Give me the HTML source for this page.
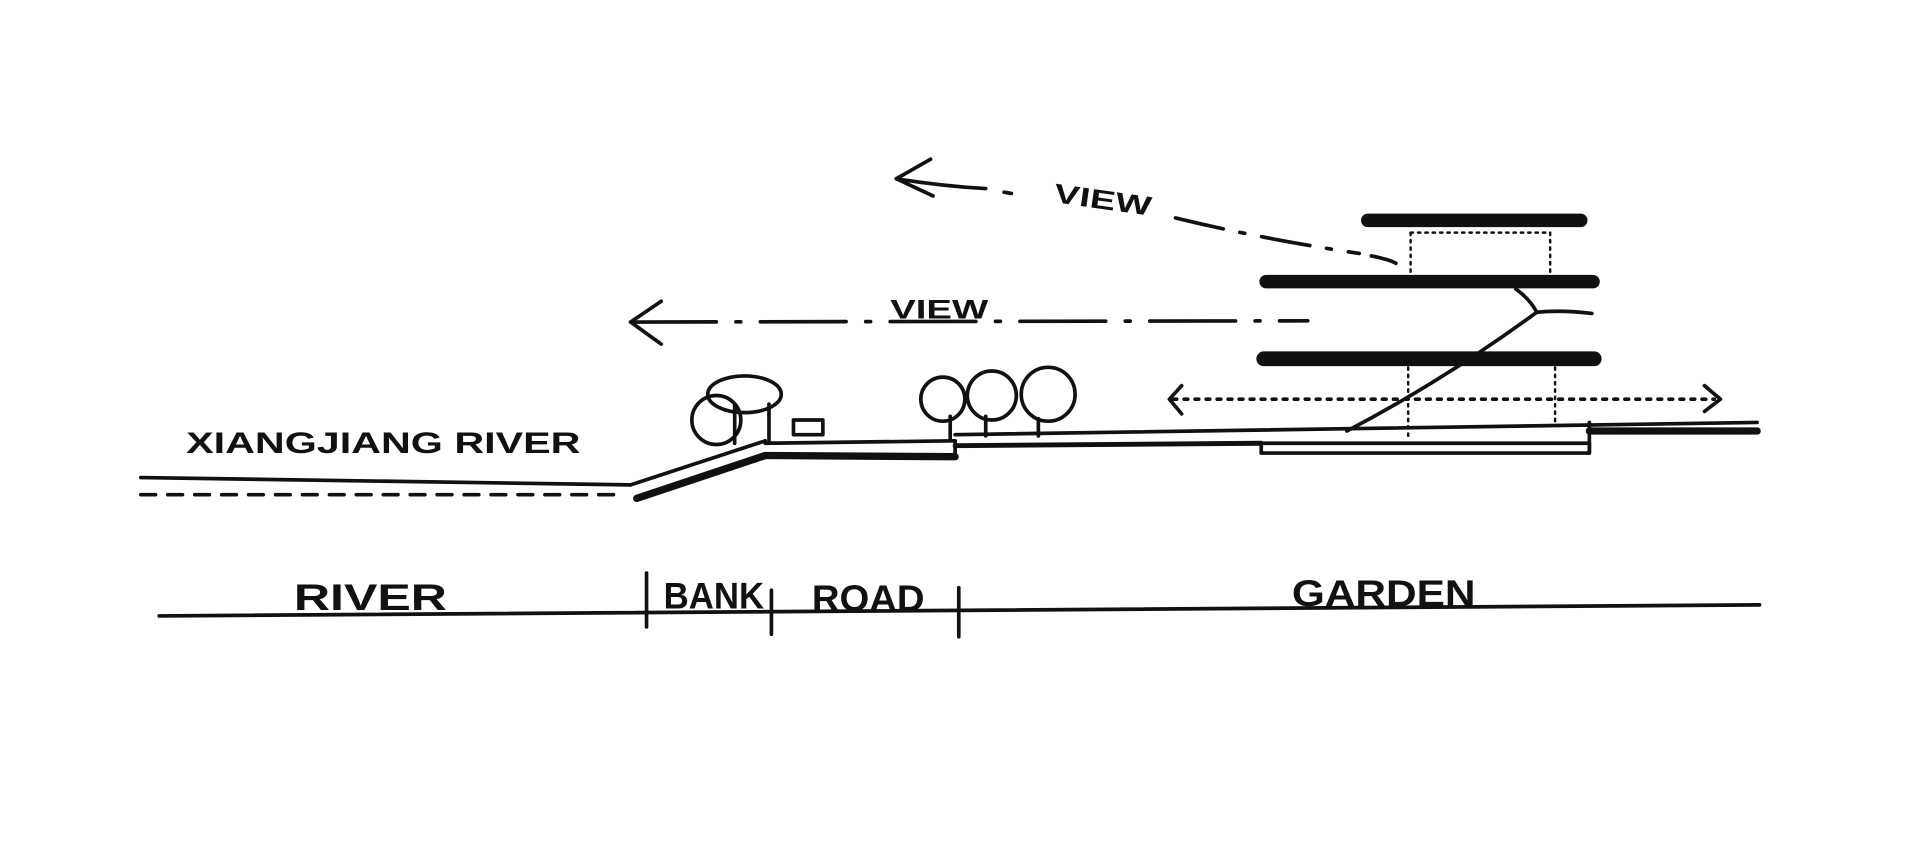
<!DOCTYPE html>
<html><head><meta charset="utf-8"><style>
html,body{margin:0;padding:0;background:#fff;width:1920px;height:851px;overflow:hidden}
svg{display:block}
text{font-family:"Liberation Sans",sans-serif;fill:#111;font-weight:bold}
</style></head><body>
<svg width="1920" height="851" viewBox="0 0 1568 695" xmlns="http://www.w3.org/2000/svg">
<rect width="1568" height="695" fill="#fff"/>
<g stroke="#111" fill="none" stroke-linecap="round" stroke-linejoin="round">
<line x1="1117" y1="180" x2="1291" y2="180" stroke-width="11"/>
<line x1="1034" y1="230" x2="1301" y2="230" stroke-width="11"/>
<line x1="1032" y1="293" x2="1302" y2="293" stroke-width="12"/>
<g stroke-width="2" stroke-dasharray="2 4">
<line x1="1152" y1="190" x2="1266" y2="190"/>
<line x1="1152" y1="190" x2="1152" y2="224"/>
<line x1="1266" y1="190" x2="1266" y2="224"/>
<line x1="1150" y1="300" x2="1150" y2="356"/>
<line x1="1270" y1="300" x2="1270" y2="348"/>
</g>
<path d="M1100 352 Q1180 310 1255 255 Q1250 245 1238 236" stroke-width="3"/>
<path d="M1255 255 Q1275 253 1300 256" stroke-width="3"/>
<path d="M115 390 L515 396" stroke-width="3"/>
<line x1="115" y1="404" x2="505" y2="404" stroke-width="3" stroke-dasharray="12 10"/>
<path d="M515 396 L625 360" stroke-width="3"/>
<path d="M520 407 L625 372" stroke-width="6"/>
<path d="M625 362 L780 360" stroke-width="3"/>
<path d="M625 372 L780 373" stroke-width="6"/>
<line x1="780" y1="360" x2="780" y2="373" stroke-width="3"/>
<path d="M780 355 L1435 345" stroke-width="3"/>
<path d="M780 364 L1030 362" stroke-width="4"/>
<path d="M1298 352 L1435 352" stroke-width="6"/>
<path d="M1030 362 L1298 362 L1298 370 L1030 370 Z" stroke-width="3"/>
<line x1="1298" y1="345" x2="1298" y2="370" stroke-width="3"/>
<circle cx="585" cy="343" r="20" stroke-width="3"/>
<ellipse cx="608" cy="322" rx="30" ry="15" stroke-width="3"/>
<line x1="600" y1="330" x2="600" y2="362" stroke-width="3"/>
<line x1="628" y1="330" x2="628" y2="360" stroke-width="3"/>
<rect x="648" y="343" width="24" height="12" stroke-width="3"/>
<circle cx="770" cy="326" r="18" stroke-width="3"/>
<circle cx="810" cy="323" r="20" stroke-width="3"/>
<circle cx="856" cy="322" r="22" stroke-width="3"/>
<line x1="776" y1="340" x2="776" y2="358" stroke-width="3"/>
<line x1="805" y1="340" x2="805" y2="356" stroke-width="3"/>
<line x1="848" y1="342" x2="848" y2="356" stroke-width="3"/>
<line x1="958" y1="326" x2="1400" y2="326" stroke-width="3" stroke-dasharray="3 6"/>
<path d="M965 315 L955 326 L965 338" stroke-width="3"/>
<path d="M1392 315 L1405 326 L1392 336" stroke-width="3"/>
<path d="M760 130 L732 146 L762 160" stroke-width="3"/>
<path d="M732 146 Q770 152 805 154" stroke-width="3"/>
<path d="M820 157 L826 158" stroke-width="3"/>
<path d="M960 178 Q1030 195 1110 207" stroke-width="3" stroke-dasharray="40 14 4 14"/>
<path d="M1120 209 Q1135 212 1140 215" stroke-width="3"/>
<path d="M540 246 L515 263 L540 281" stroke-width="3"/>
<path d="M515 263 L1068 262" stroke-width="3" stroke-dasharray="70 16 4 16"/>
<path d="M130 503 L1437 494" stroke-width="3"/>
<line x1="528" y1="468" x2="528" y2="512" stroke-width="3"/>
<line x1="630" y1="482" x2="630" y2="518" stroke-width="3"/>
<line x1="783" y1="480" x2="783" y2="520" stroke-width="3"/>
</g>
<text x="860" y="165" font-size="22" textLength="80" lengthAdjust="spacingAndGlyphs" transform="rotate(8 860 165)">VIEW</text>
<text x="727" y="260" font-size="22" textLength="80" lengthAdjust="spacingAndGlyphs">VIEW</text>
<text x="152" y="370" font-size="24" textLength="322" lengthAdjust="spacingAndGlyphs">XIANGJIANG RIVER</text>
<text x="240" y="498" font-size="30" textLength="125" lengthAdjust="spacingAndGlyphs">RIVER</text>
<text x="542" y="497" font-size="30" textLength="82" lengthAdjust="spacingAndGlyphs">BANK</text>
<text x="663" y="499" font-size="30" textLength="92" lengthAdjust="spacingAndGlyphs">ROAD</text>
<text x="1055" y="495" font-size="30" textLength="150" lengthAdjust="spacingAndGlyphs">GARDEN</text>
</svg>
</body></html>
